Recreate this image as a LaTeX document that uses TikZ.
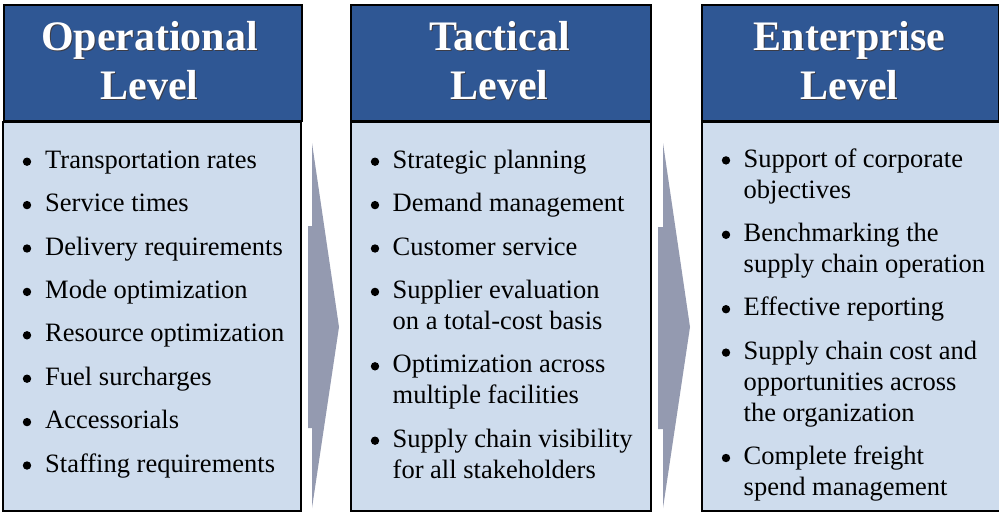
\documentclass[tikz,border=0pt]{standalone}
\usepackage{fontspec}
\setmainfont{Liberation Serif}
\definecolor{hdrblue}{RGB}{47,87,148}
\definecolor{bodyblue}{RGB}{206,220,237}
\definecolor{arrowgray}{RGB}{148,154,176}
\definecolor{shadowgray}{RGB}{60,60,70}
\tikzset{
  hdrbox/.style={draw=black, line width=2.2pt, fill=hdrblue},
  bodybox/.style={draw=black, line width=2pt, fill=bodyblue},
  hdrtext/.style={anchor=base, inner sep=0pt, text=white, font=\fontsize{42}{49}\selectfont\bfseries},
  hdrshadow/.style={anchor=base, inner sep=0pt, text=shadowgray, font=\fontsize{42}{49}\selectfont\bfseries},
  itemtext/.style={anchor=base west, inner sep=0pt, text=black, font=\fontsize{26.5}{31}\selectfont},
  bul/.style={circle, fill=black, inner sep=0pt, minimum size=8.4pt},
  chevron/.style={fill=arrowgray, draw=none}
}
\begin{document}
\begin{tikzpicture}[x=1pt,y=-1pt]
\useasboundingbox (0,0) rectangle (999,512);
\fill[white] (0,0) rectangle (999,512);

% arrows
\fill[chevron] (312,143) -- (339,327) -- (312,508) -- (312,428) -- (308,428) -- (308,226) -- (312,226) -- cycle;
\fill[chevron] (663,143) -- (690,327) -- (663,508) -- (663,429) -- (658,429) -- (658,227) -- (663,227) -- cycle;

% bodies
\node[bodybox, minimum width=298pt, minimum height=389pt, inner sep=0pt, anchor=north west] (body1) at (2,121) {};
\node[bodybox, minimum width=300pt, minimum height=389pt, inner sep=0pt, anchor=north west] (body2) at (349.5,121) {};
\node[bodybox, minimum width=298pt, minimum height=389pt, inner sep=0pt, anchor=north west] (body3) at (700.5,121) {};

% headers
\node[hdrbox, minimum width=298pt, minimum height=116pt, inner sep=0pt, anchor=north west] (hdr1) at (2.5,4) {};
\node[hdrbox, minimum width=300pt, minimum height=116pt, inner sep=0pt, anchor=north west] (hdr2) at (349.5,4) {};
\node[hdrbox, minimum width=297pt, minimum height=116pt, inner sep=0pt, anchor=north west] (hdr3) at (700.5,4) {};

% header texts (shadow + white)
\node[hdrshadow] (h1as) at (150.5,51) {Operational};
\node[hdrshadow] (h1bs) at (150.5,100.3) {Level};
\node[hdrtext] (h1a) at (149.5,50) {Operational};
\node[hdrtext] (h1b) at (149.5,99.3) {Level};
\node[hdrshadow] (h2as) at (500.5,51) {Tactical};
\node[hdrshadow] (h2bs) at (500.5,100.3) {Level};
\node[hdrtext] (h2a) at (499.5,50) {Tactical};
\node[hdrtext] (h2b) at (499.5,99.3) {Level};
\node[hdrshadow] (h3as) at (850.5,51) {Enterprise};
\node[hdrshadow] (h3bs) at (850.5,100.3) {Level};
\node[hdrtext] (h3a) at (849.5,50) {Enterprise};
\node[hdrtext] (h3b) at (849.5,99.3) {Level};

% column 1
\foreach \t [count=\i] in {Transportation rates,Service times,Delivery requirements,Mode optimization,Resource optimization,Fuel surcharges,Accessorials,Staffing requirements}{
  \pgfmathsetmacro{\yy}{168.3+43.4*(\i-1)}
  \node[bul] (b1\i) at (27,\yy-6.6) {};
  \node[itemtext] (t1\i) at (45,\yy) {\t};
}

% column 2
\node[bul] (b21) at (375,161.7) {};
\node[itemtext] (t21) at (392.5,168.3) {Strategic planning};
\node[bul] (b22) at (375,205.1) {};
\node[itemtext] (t22) at (392.5,211.7) {Demand management};
\node[bul] (b23) at (375,248.5) {};
\node[itemtext] (t23) at (392.5,255.1) {Customer service};
\node[bul] (b24) at (375,291.9) {};
\node[itemtext] (t24a) at (392.5,298.5) {Supplier evaluation};
\node[itemtext] (t24b) at (392.5,329.5) {on a total-cost basis};
\node[bul] (b25) at (375,366.3) {};
\node[itemtext] (t25a) at (392.5,372.9) {Optimization across};
\node[itemtext] (t25b) at (392.5,403.9) {multiple facilities};
\node[bul] (b26) at (375,440.7) {};
\node[itemtext] (t26a) at (392.5,447.3) {Supply chain visibility};
\node[itemtext] (t26b) at (392.5,478.3) {for all stakeholders};

% column 3
\node[bul] (b31) at (726,160.4) {};
\node[itemtext] (t31a) at (743.5,167) {Support of corporate};
\node[itemtext] (t31b) at (743.5,198) {objectives};
\node[bul] (b32) at (726,234.8) {};
\node[itemtext] (t32a) at (743.5,241.4) {Benchmarking the};
\node[itemtext] (t32b) at (743.5,272.4) {supply chain operation};
\node[bul] (b33) at (726,309.2) {};
\node[itemtext] (t33) at (743.5,315.8) {Effective reporting};
\node[bul] (b34) at (726,352.6) {};
\node[itemtext] (t34a) at (743.5,359.2) {Supply chain cost and};
\node[itemtext] (t34b) at (743.5,390.2) {opportunities across};
\node[itemtext] (t34c) at (743.5,421.2) {the organization};
\node[bul] (b35) at (726,458) {};
\node[itemtext] (t35a) at (743.5,464.6) {Complete freight};
\node[itemtext] (t35b) at (743.5,495.6) {spend management};
\end{tikzpicture}
\end{document}
